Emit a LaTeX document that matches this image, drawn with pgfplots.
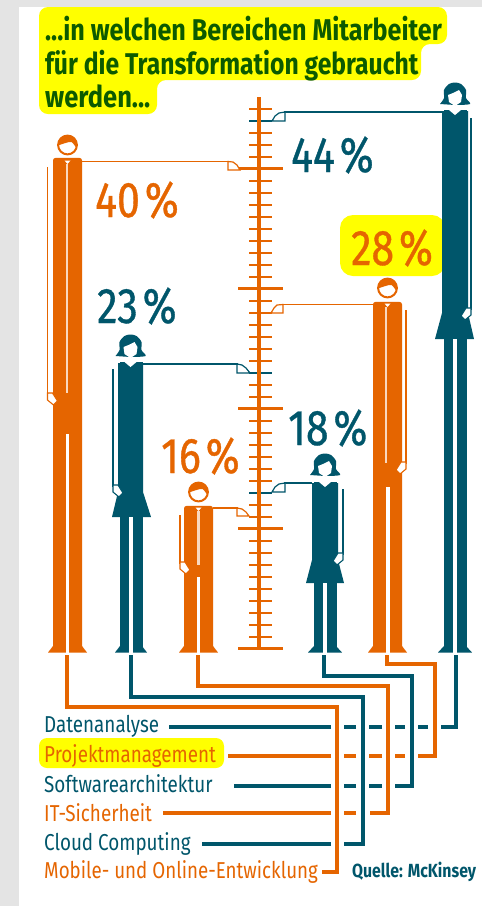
\documentclass[border=0pt]{standalone}
\usepackage{pgfplots}
\pgfplotsset{compat=1.18}
\usepackage{fontspec}
\setmainfont{Fira Sans}
\newfontfamily\cond[FakeStretch=0.78]{Fira Sans}
\newfontfamily\condm[FakeStretch=0.82,FakeBold=0.7]{Fira Sans}
\definecolor{org}{HTML}{E56500}
\definecolor{tea}{HTML}{00566B}
\definecolor{grn}{HTML}{0C5A00}
\definecolor{bg}{HTML}{E4E4E4}
\definecolor{ylw}{HTML}{FFFF00}
\pgfplotsset{
  pct/.style={y filter/.expression={648.7-12*y}},
  rel/.style n args={3}{x filter/.expression={#3*x+#1}, y filter/.expression={y+#2}},
}
% text helper: x, baseline y, colour, size, x-stretch, text
\newcommand\txt[6]{\node[anchor=base west,inner sep=0pt,text=#3] at (axis cs:#1,#2) {\scalebox{#5}[1]{\cond\fontsize{#4}{#4}\selectfont #6}};}
\newcommand\pct[4]{\node[anchor=base west,inner sep=0pt,text=#3] at (axis cs:#1,#2) {\condm\fontsize{50}{50}\selectfont #4\kern5pt\%};}
\newcommand\wire[2]{\addplot[#1,line width=3.3pt,line cap=butt,line join=miter] coordinates {#2};}
\newcommand\hand[4]{% colour, x, y, side
  \addplot[#1,fill=white,line width=1.1pt,rel={#2}{#3}{#4}] coordinates {(0,0)(5,0)(10,8)(6,12)(0,7)} --cycle;}
\newcommand\manhead[2]{%
  \addplot[only marks,mark=*,mark size=9.4pt,mark options={draw=org,fill=white,line width=2pt}] coordinates {(#1,#2)};
  \addplot[fill=org,draw=none,smooth,rel={#1}{#2}{1}] coordinates {(-9,-1)(-6,-7)(0,-10)(6,-8)(9,-2)(8.5,2)(4,-3)(-2,-2)(-8,0)} --cycle;
  \addplot[fill=white,draw=none,rel={#1}{#2}{1}] coordinates {(-3,15.5)(3,15.5)(0,19)} --cycle;
}
\newcommand\womanhead[3]{%
  \addplot[fill=tea,draw=none,smooth,rel={#1}{#2}{1}] coordinates {(-15,11)(-11,5)(-11,-3)(-6,-9)(0,-10.5)(6,-9)(11,-3)(11,5)(15,11)(0,12)} --cycle;
  \addplot[fill=white,draw=none,rel={#1}{#2}{1}] coordinates {(-7,2)(-2,0)(4,-3)(7,2)(6,9)(0,13)(-6,9)} --cycle;
  \addplot[fill=white,draw=none,rel={#1}{#2}{1}] coordinates {(-6,#3)(6,#3)(0,#3+5)} --cycle;
}
\begin{document}
\begin{tikzpicture}
\begin{axis}[
  width=482pt,height=906pt,scale only axis,
  xmin=0,xmax=482,ymin=0,ymax=906,y dir=reverse,
  axis lines=none,ticks=none,clip=true,clip marker paths=true]

% page
\addplot[fill=bg,draw=none] coordinates {(0,0)(482,0)(482,906)(0,906)} --cycle;
\addplot[fill=white,draw=none] coordinates {(19,7)(482,7)(482,906)(19,906)} --cycle;

% highlights
\addplot[fill=ylw,draw=none,rounded corners=9pt] coordinates {(39,7)(447,7)(447,44)(421,44)(421,80)(157,80)(157,114)(39,114)} --cycle;
\addplot[fill=ylw,draw=none,rounded corners=8pt] coordinates {(39,738)(224,738)(224,768)(39,768)} --cycle;
\addplot[fill=ylw,draw=none,rounded corners=13pt] coordinates {(340,215)(445,215)(445,276)(340,276)} --cycle;

% ruler (percent units)
\pgfplotsinvokeforeach{1,2,3,4,5,6,7,8,9,11,12,14,15,16,17,18,19,21,22,24,25,26,27,28,29,31,32,33,34,35,36,37,38,39,41,42,43,45}{
  \addplot[org,line width=2pt,pct] coordinates {(249,#1)(272,#1)};
}
\addplot[tea,line width=2pt,pct] coordinates {(249,13)(272,13)};
\addplot[tea,line width=2pt,pct] coordinates {(249,23)(272,23)};
\addplot[tea,line width=2pt,pct] coordinates {(249,44)(272,44)};
\pgfplotsinvokeforeach{0,10,20,30,40}{
  \addplot[org,line width=3.2pt,pct] coordinates {(238,#1)(283,#1)};
}
\addplot[org,line width=4pt,pct] coordinates {(259,-0.1)(259,46)};

% bodies: legs + torso as bars (percent units)
\addplot[fill=org,draw=none,pct,rounded corners=2.5pt] coordinates {(53,-0.2)(53,40.9)(82,40.9)(82,-0.2)} --cycle;
\addplot[fill=tea,draw=none,pct] coordinates {(119.5,-0.2)(119.5,23.9)(142.5,23.9)(142.5,-0.2)} --cycle;
\addplot[fill=org,draw=none,pct,rounded corners=2.5pt] coordinates {(184,-0.2)(184,11.9)(213,11.9)(213,-0.2)} --cycle;
\addplot[fill=tea,draw=none,pct] coordinates {(313.5,-0.2)(313.5,13.9)(336.5,13.9)(336.5,-0.2)} --cycle;
\addplot[fill=org,draw=none,pct,rounded corners=2.5pt] coordinates {(373,-0.2)(373,28.9)(402,28.9)(402,-0.2)} --cycle;
\addplot[fill=tea,draw=none,pct] coordinates {(443.5,-0.2)(443.5,44.9)(466.5,44.9)(466.5,-0.2)} --cycle;

% --- men ---
% P1
\addplot[fill=org,draw=none] coordinates {(48,652.5)(53,646)(82,646)(87,652.5)} --cycle;
\addplot[white,line width=3.4pt] coordinates {(67.5,434)(67.5,654)};
\addplot[white!75!org,line width=2pt] coordinates {(67,164)(67,393)};
\addplot[org,line width=1.8pt] coordinates {(47.5,167)(47.5,395)};
\hand{org}{47.5}{393}{1}
\manhead{67.5}{145}
% P3
\addplot[fill=org,draw=none] coordinates {(179,652.5)(184,646)(213,646)(218,652.5)} --cycle;
\addplot[white,line width=3.4pt] coordinates {(198.5,577)(198.5,654)};
\addplot[white!75!org,line width=3pt] coordinates {(198,511)(198,565)};
\addplot[org,line width=1.8pt] coordinates {(180,515)(180,564)};
\hand{org}{180}{562}{1}
\manhead{198.5}{492}
% P5
\addplot[fill=org,draw=none] coordinates {(368,652.5)(373,646)(402,646)(407,652.5)} --cycle;
\addplot[white,line width=3.4pt] coordinates {(388,487)(388,654)};
\addplot[white!75!org,line width=2.4pt] coordinates {(386,307)(386,463)};
\addplot[org,line width=1.8pt] coordinates {(406,310)(406,464)};
\hand{org}{406}{462}{-1}
\manhead{387.5}{288}

% --- women ---
% P2
\addplot[fill=tea,draw=none] coordinates {(118,363)(143,363)(143,492)(151,517)(112,517)(118,492)} --cycle;
\addplot[fill=tea,draw=none] coordinates {(115,652.5)(120,646)(142,646)(147,652.5)} --cycle;
\addplot[white,line width=3.4pt] coordinates {(131,517)(131,654)};
\addplot[tea,line width=1.8pt] coordinates {(113,369)(113,487)};
\hand{tea}{113}{485}{1}
\womanhead{130.5}{345}{17}
% P4
\addplot[fill=tea,draw=none] coordinates {(312,483)(338,483)(338,560)(344,583)(306,583)(312,560)} --cycle;
\addplot[fill=tea,draw=none] coordinates {(308,652.5)(314,646)(336,646)(342,652.5)} --cycle;
\addplot[white,line width=3.4pt] coordinates {(325,583)(325,654)};
\addplot[tea,line width=1.8pt] coordinates {(343,489)(343,555)};
\hand{tea}{343}{553}{-1}
\womanhead{325}{464}{18}
% P6
\addplot[fill=tea,draw=none] coordinates {(442,111)(468,111)(468,313)(474,339)(435,339)(442,313)} --cycle;
\addplot[fill=tea,draw=none] coordinates {(438,652.5)(444,646)(466,646)(472,652.5)} --cycle;
\addplot[white,line width=3.4pt] coordinates {(455,339)(455,654)};
\addplot[tea,line width=1.8pt] coordinates {(471,118)(471,310)};
\hand{tea}{471}{308}{-1}
\womanhead{455}{93}{17}

% leaders and pointing hands
\addplot[org,line width=1.8pt] coordinates {(82,161.5)(229,161.5)};
\addplot[org,fill=white,line width=1.2pt] coordinates {(228,161.5)(233,162)(237,165)(240,170)(228,170)} --cycle;
\addplot[tea,line width=1.8pt] coordinates {(143,364)(238,364)};
\addplot[tea,fill=white,line width=1.2pt] coordinates {(237,364)(242,365)(246,368)(250,373)(237,373)} --cycle;
\addplot[org,line width=1.8pt] coordinates {(213,508)(238,508)};
\addplot[org,fill=white,line width=1.2pt] coordinates {(237,508)(242,509)(246,512)(249,516)(237,516)} --cycle;
\addplot[tea,line width=1.8pt] coordinates {(312,483)(284,483)};
\addplot[tea,fill=white,line width=1.2pt] coordinates {(285,483)(279,484)(275,487)(272,492)(285,492)} --cycle;
\addplot[org,line width=1.8pt] coordinates {(373,304.5)(282,304.5)};
\addplot[org,fill=white,line width=1.2pt] coordinates {(283,304.5)(277,305)(274,308)(271,313)(283,313)} --cycle;
\addplot[tea,line width=1.8pt] coordinates {(442,112)(284,112)};
\addplot[tea,fill=white,line width=1.2pt] coordinates {(285,112)(279,113)(275,116)(272,121)(285,121)} --cycle;

% connectors
\wire{org}{(67,655)(67,707)(337,707)(337,872)(322,872)}
\wire{tea}{(131,655)(131,697)(363,697)(363,844)(344,844)}
\wire{tea}{(331,844)(202,844)}
\wire{org}{(198,655)(198,686)(388,686)(388,813)(370,813)}
\wire{org}{(356,813)(344,813)}
\wire{org}{(331,813)(163,813)}
\wire{tea}{(324,655)(324,676)(412,676)(412,786)(395,786)}
\wire{tea}{(382,786)(369,786)}
\wire{tea}{(356,786)(344,786)}
\wire{tea}{(331,786)(234,786)}
\wire{org}{(387,655)(387,664)(435,664)(435,756)(418,756)}
\wire{org}{(405,756)(395,756)}
\wire{org}{(382,756)(369,756)}
\wire{org}{(356,756)(344,756)}
\wire{org}{(331,756)(228,756)}
\wire{tea}{(456,655)(456,727)(441,727)}
\wire{tea}{(428,727)(418,727)}
\wire{tea}{(405,727)(395,727)}
\wire{tea}{(382,727)(369,727)}
\wire{tea}{(356,727)(344,727)}
\wire{tea}{(331,727)(169,727)}

% title
\txt{45}{40}{grn}{30}{1.075}{\bfseries ...in welchen Bereichen Mitarbeiter}
\txt{45}{74}{grn}{30}{1.055}{\bfseries für die Transformation gebraucht}
\txt{45}{107}{grn}{30}{1.09}{\bfseries werden...}

% percentages
\pct{95}{217}{org}{40}
\pct{291}{172}{tea}{44}
\pct{351}{265}{org}{28}
\pct{97}{323}{tea}{23}
\pct{161}{473}{org}{16}
\pct{288}{445}{tea}{18}

% legend
\txt{44}{732}{tea}{23}{1.05}{Datenanalyse}
\txt{44}{762}{org}{23}{1.05}{Projektmanagement}
\txt{44}{792}{tea}{23}{1.05}{Softwarearchitektur}
\txt{44}{821}{org}{23}{1.05}{IT-Sicherheit}
\txt{44}{850}{tea}{23}{1.05}{Cloud Computing}
\txt{44}{878}{org}{23}{1.045}{Mobile- und Online-Entwicklung}
\txt{352}{877}{tea}{19}{1.07}{\bfseries Quelle: McKinsey}
\end{axis}
\end{tikzpicture}
\end{document}
